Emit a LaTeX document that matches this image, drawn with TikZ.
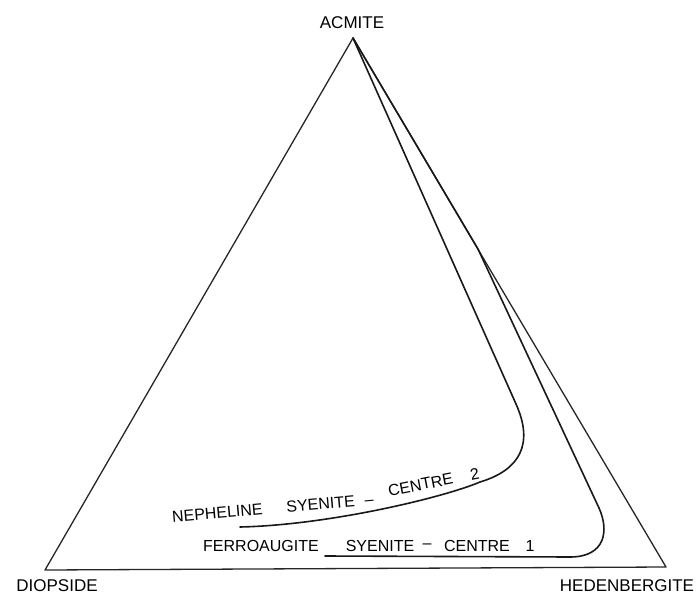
\documentclass[tikz,border=0pt]{standalone}
\usepackage{fontspec}
\setmainfont{Liberation Sans}
\begin{document}
\begin{tikzpicture}[x=1pt,y=-1pt,
  edge/.style={line width=1.3pt,draw=black!85,line join=round},
  trend/.style={line width=1.6pt,draw=black!90,line join=round,line cap=round},
  vlabel/.style={inner sep=0pt,font=\fontsize{17}{17}\selectfont},
  tlabel/.style={inner sep=0pt,font=\fontsize{16}{16}\selectfont}]
\useasboundingbox (0,0) rectangle (699,597);
% vertices
\coordinate (A) at (353,38);
\coordinate (D) at (45,570);
\coordinate (H) at (666,567);
% vertex labels
\node[vlabel] (lA) at (352,23) {ACMITE};
\node[vlabel] (lD) at (57,586) {DIOPSIDE};
\node[vlabel] (lH) at (627,586) {HEDENBERGITE};
% triangle
\draw[edge] (A) -- (D) -- (H) -- cycle;
% trend points
\coordinate (c2a) at (516,404);
\coordinate (c2b) at (480,482);
\coordinate (c2e) at (240,527);
\coordinate (c1a) at (478,249);
\coordinate (c1b) at (599,508);
\coordinate (c1c) at (570,557);
\coordinate (c1e) at (325,556);
% Centre 2 trend
\draw[trend] (A) -- (c2a) .. controls (534,444) and (520,470) .. (c2b)
  .. controls (445,497) and (330,525) .. (c2e);
% Centre 1 trend
\draw[trend] (A) -- (c1a) -- (c1b) .. controls (609,530) and (606,557) .. (c1c) -- (c1e);
% Centre 2 label
\node[tlabel,rotate=5,anchor=west] (n1) at (172,517) {NEPHELINE\hspace{24pt}SYENITE\hspace{10pt}–};
\node[tlabel,rotate=11,anchor=west] (n2) at (388,491) {CENTRE\hspace{18pt}2};
% Centre 1 label
\node[tlabel] (f1) at (261,546) {FERROAUGITE};
\node[tlabel] (f2) at (380,546) {SYENITE};
\node[tlabel] (f3) at (427,546) {–};
\node[tlabel] (f4) at (477,546) {CENTRE};
\node[tlabel] (f5) at (530,546) {1};
\end{tikzpicture}
\end{document}
